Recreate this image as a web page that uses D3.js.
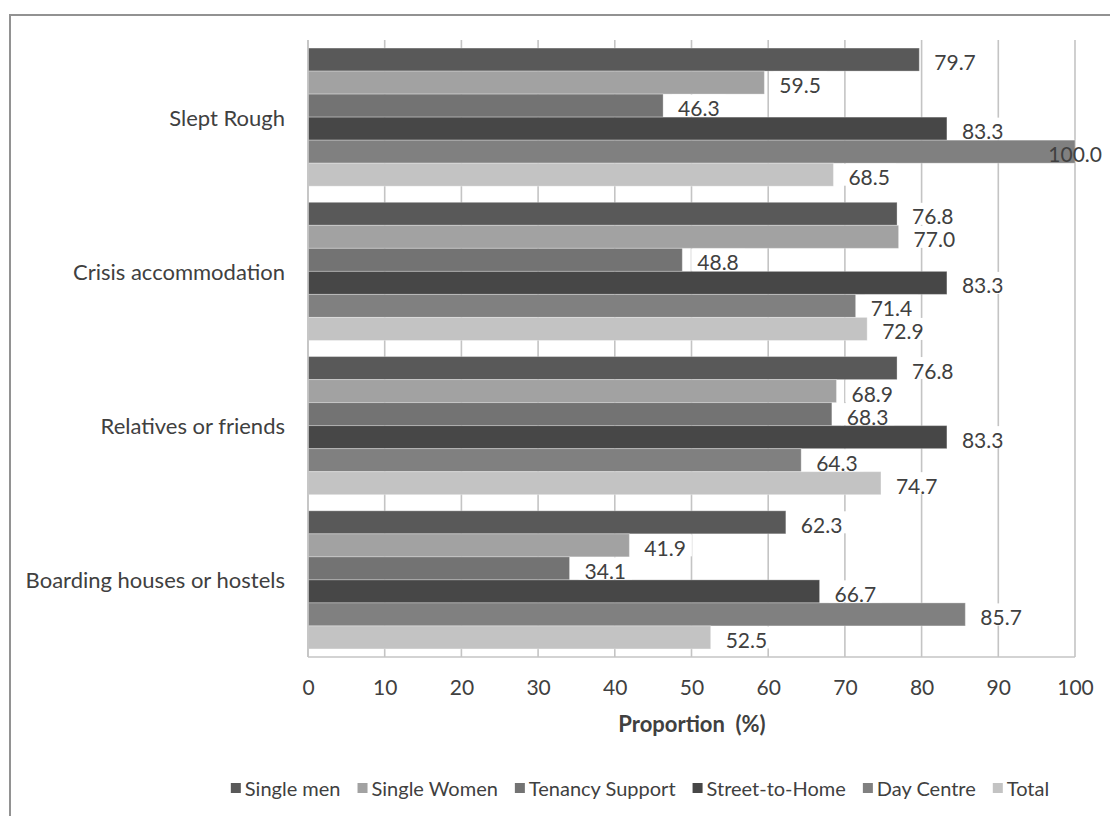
<!DOCTYPE html>
<html>
<head>
<meta charset="utf-8">
<script src="https://cdn.jsdelivr.net/npm/d3@7"></script>
<style>
  html, body { margin: 0; padding: 0; background: #fff; }
  svg { display: block; }
  text { font-family: Lato, "Open Sans", sans-serif; fill: #404040; }
</style>
</head>
<body>
<svg id="chart" width="1110" height="816"></svg>
<script>
// Accommodation types (top to bottom)
const categories = ["Slept Rough", "Crisis accommodation", "Relatives or friends", "Boarding houses or hostels"];

// Client groups, in bar order within each category
const seriesNames = ["Single men", "Single Women", "Tenancy Support", "Street-to-Home", "Day Centre", "Total"];
const seriesColors = ["#595959", "#a2a2a2", "#737373", "#474747", "#808080", "#c3c3c3"];

// Proportion (%) for each group, by category
const singleMen      = [79.7, 76.8, 76.8, 62.3];
const singleWomen    = [59.5, 77.0, 68.9, 41.9];
const tenancySupport = [46.3, 48.8, 68.3, 34.1];
const streetToHome   = [83.3, 83.3, 83.3, 66.7];
const dayCentre      = [100.0, 71.4, 64.3, 85.7];
const total          = [68.5, 72.9, 74.7, 52.5];

const xTicks = [0, 10, 20, 30, 40, 50, 60, 70, 80, 90, 100];

const seriesValues = [singleMen, singleWomen, tenancySupport, streetToHome, dayCentre, total];

const svg = d3.select("#chart");

// outer chart frame
svg.append("rect")
  .attr("x", 10).attr("y", 15)
  .attr("width", 1300).attr("height", 1000)
  .attr("fill", "none").attr("stroke", "#929292").attr("stroke-width", 2);

const plot = { left: 308, right: 1075, top: 40, bottom: 657 };

const x = d3.scaleLinear().domain([0, 100]).range([plot.left, plot.right]);
const y0 = d3.scaleBand().domain(categories).range([plot.top, plot.bottom]).padding(0);
const y1 = d3.scaleBand().domain(seriesNames).range([0, y0.bandwidth()]).paddingInner(0).paddingOuter(0.35);

// vertical gridlines
svg.append("g")
  .selectAll("line")
  .data(xTicks)
  .join("line")
  .attr("x1", d => x(d)).attr("x2", d => x(d))
  .attr("y1", plot.top).attr("y2", plot.bottom)
  .attr("stroke", "#c4c4c4").attr("stroke-width", 1.6);

// bottom axis line
svg.append("line")
  .attr("x1", plot.left).attr("x2", plot.right)
  .attr("y1", plot.bottom).attr("y2", plot.bottom)
  .attr("stroke", "#c4c4c4").attr("stroke-width", 1.6);

// bottom axis tick labels
const xAxis = d3.axisBottom(x).tickValues(xTicks).tickSize(0).tickPadding(0).tickFormat(d3.format("d"));
const xg = svg.append("g").attr("transform", `translate(0,${plot.bottom})`).call(xAxis);
xg.select(".domain").remove();
xg.selectAll("text")
  .attr("y", 31).attr("dy", "0.35em")
  .style("font-family", "Lato, 'Open Sans', sans-serif")
  .style("font-size", "21px")
  .style("fill", "#404040");

// axis title
svg.append("text")
  .attr("x", 692).attr("y", 723)
  .attr("text-anchor", "middle").attr("dominant-baseline", "central")
  .style("font-size", "22px").style("font-weight", "bold")
  .style("white-space", "pre")
  .text("Proportion  (%)");

// category labels
svg.append("g")
  .selectAll("text")
  .data(categories)
  .join("text")
  .attr("x", 285)
  .attr("y", d => y0(d) + y0.bandwidth() / 2)
  .attr("text-anchor", "end").attr("dominant-baseline", "central")
  .style("font-size", "22px")
  .text(d => d);

// bars
const rows = [];
categories.forEach((c, ci) => {
  seriesNames.forEach((s, si) => {
    rows.push({ cat: c, series: s, color: seriesColors[si], value: seriesValues[si][ci] });
  });
});

const barG = svg.append("g");
barG.selectAll("rect")
  .data(rows)
  .join("rect")
  .attr("x", x(0))
  .attr("y", d => y0(d.cat) + y1(d.series))
  .attr("width", d => x(d.value) - x(0))
  .attr("height", y1.bandwidth())
  .attr("fill", d => d.color)
  .attr("stroke", "rgba(255,255,255,0.3)")
  .attr("stroke-width", 1);

// left axis line
svg.append("line")
  .attr("x1", plot.left).attr("x2", plot.left)
  .attr("y1", plot.top).attr("y2", plot.bottom)
  .attr("stroke", "#c4c4c4").attr("stroke-width", 1.6);

// value labels with white backing boxes
const labelG = svg.append("g");
const labelLimit = 1102;
rows.forEach(d => {
  const g = labelG.append("g");
  const top = y0(d.cat) + y1(d.series);
  const yc = top + y1.bandwidth() / 2 + 2;
  const t = g.append("text")
    .attr("y", yc)
    .attr("dominant-baseline", "central")
    .style("font-size", "21px")
    .text(d3.format(".1f")(d.value));
  const w = t.node().getComputedTextLength();
  let tx = x(d.value) + 15;
  let boxed = true;
  if (tx + w > labelLimit) { tx = labelLimit - w; boxed = false; }
  t.attr("x", tx);
  if (boxed) {
    g.insert("rect", "text")
      .attr("x", tx - 6).attr("y", top + 0.5)
      .attr("width", w + 12).attr("height", y1.bandwidth() - 1)
      .attr("fill", "#fff");
  }
});

// legend
const legend = svg.append("g");
const legendY = 788;
const items = legend.selectAll("g").data(seriesNames).join("g");
items.append("rect")
  .attr("width", 10).attr("height", 10)
  .attr("y", legendY - 5)
  .attr("fill", (d, i) => seriesColors[i]);
items.append("text")
  .attr("x", 14).attr("y", legendY)
  .attr("dominant-baseline", "central")
  .style("font-size", "20px")
  .text(d => d);
let cursor = 0;
const offsets = [];
items.each(function () {
  const w = d3.select(this).select("text").node().getComputedTextLength();
  offsets.push(cursor);
  cursor += 14 + w + 17;
});
const legendWidth = cursor - 17;
const legendStart = 640 - legendWidth / 2;
items.attr("transform", (d, i) => `translate(${legendStart + offsets[i]},0)`);
</script>
</body>
</html>
